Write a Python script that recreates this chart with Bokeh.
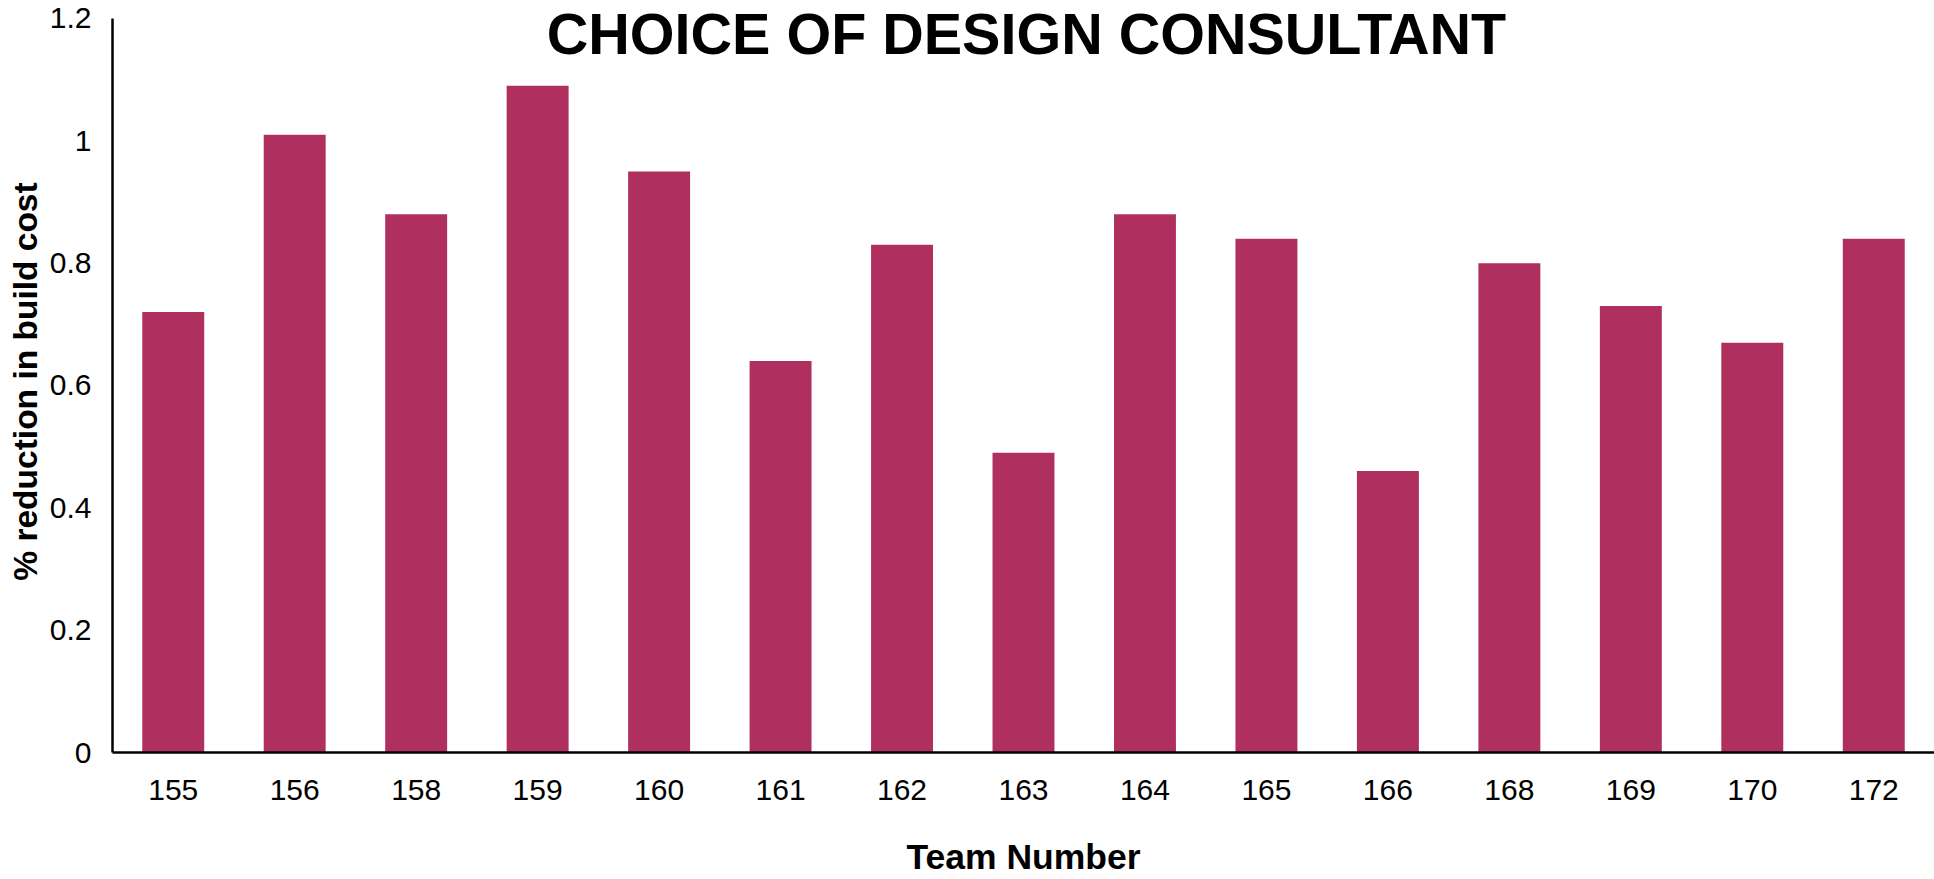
from bokeh.plotting import figure
from bokeh.models import ColumnDataSource, FactorRange, Range1d, FixedTicker, Label
from bokeh.embed import file_html
from bokeh.resources import INLINE

# ---- data ----
teams = ["155", "156", "158", "159", "160", "161", "162", "163",
         "164", "165", "166", "168", "169", "170", "172"]
reduction = [0.72, 1.01, 0.88, 1.09, 0.95, 0.64, 0.83, 0.49,
             0.88, 0.84, 0.46, 0.80, 0.73, 0.67, 0.84]
y_ticks = [0, 0.2, 0.4, 0.6, 0.8, 1.0, 1.2]
y_tick_labels = ["0", "0.2", "0.4", "0.6", "0.8", "1", "1.2"]

title_text = "CHOICE OF DESIGN CONSULTANT"
x_title = "Team Number"
y_title = "% reduction in build cost"

BAR_COLOR = "#AF305E"
FONT = "Liberation Sans"

source = ColumnDataSource(data=dict(team=teams, value=reduction))

p = figure(
    x_range=FactorRange(*teams),
    y_range=Range1d(0, 1.213),
    width=1934, height=879,
    output_backend="svg", toolbar_location=None,
    min_border_left=112, min_border_right=0,
    min_border_top=10, min_border_bottom=126,
)
p.vbar(x="team", top="value", width=0.51, source=source,
       fill_color=BAR_COLOR, line_color=None)

p.outline_line_color = None
p.xgrid.grid_line_color = None
p.ygrid.grid_line_color = None
p.background_fill_color = "white"
p.border_fill_color = "white"

for ax in (p.xaxis[0], p.yaxis[0]):
    ax.axis_line_color = "black"
    ax.axis_line_width = 2.5
    ax.major_tick_line_color = None
    ax.minor_tick_line_color = None
    ax.major_tick_out = 0
    ax.major_tick_in = 0
    ax.minor_tick_out = 0
    ax.major_label_text_font = FONT
    ax.major_label_text_font_size = "30px"
    ax.major_label_text_color = "black"
    ax.axis_label_text_font = FONT
    ax.axis_label_text_font_style = "bold"
    ax.axis_label_text_color = "black"

p.yaxis[0].ticker = FixedTicker(ticks=y_ticks)
p.yaxis[0].bounds = (y_ticks[0], y_ticks[-1])
p.yaxis[0].major_label_overrides = {t: l for t, l in zip(y_ticks, y_tick_labels)}
p.yaxis[0].major_label_standoff = 21
p.yaxis[0].axis_label = y_title
p.yaxis[0].axis_label_text_font_size = "33.5px"
p.yaxis[0].axis_label_standoff = 3

p.xaxis[0].major_label_standoff = 27
p.xaxis[0].axis_label = x_title
p.xaxis[0].axis_label_text_font_size = "35.5px"
p.xaxis[0].axis_label_standoff = 34

title = Label(x=914, y=1.174, x_units="screen", y_units="data",
              text=title_text, text_align="center", text_baseline="alphabetic",
              text_font=FONT, text_font_size="57.5px", text_font_style="bold",
              text_color="black")
p.add_layout(title)

open("out.html", "w").write(file_html(p, INLINE))
